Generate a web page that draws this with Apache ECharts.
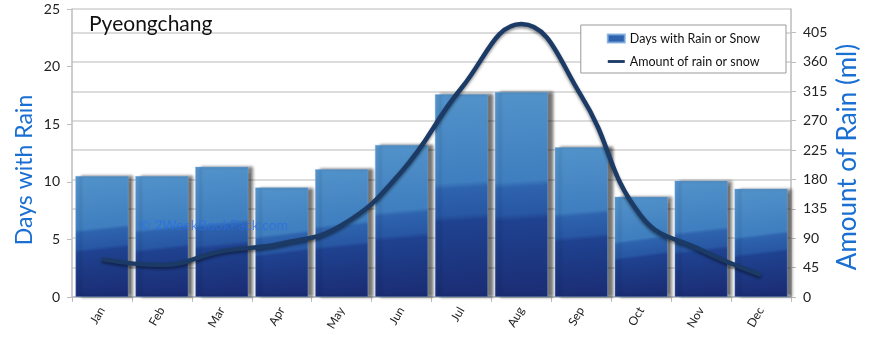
<!DOCTYPE html>
<html>
<head>
<meta charset="utf-8">
<script src="https://cdn.jsdelivr.net/npm/echarts@6/dist/echarts.min.js"></script>
<style>
  html, body { margin: 0; padding: 0; background: #fff; }
  #chart { width: 870px; height: 342px; }
</style>
</head>
<body>
<div id="chart"></div>
<script>
// Monthly climate figures for Pyeongchang
const months = ['Jan', 'Feb', 'Mar', 'Apr', 'May', 'Jun', 'Jul', 'Aug', 'Sep', 'Oct', 'Nov', 'Dec'];
const rainDays = [10.5, 10.5, 11.3, 9.5, 11.1, 13.2, 17.6, 17.8, 13.0, 8.7, 10.1, 9.4];
const rainAmount = [58, 49, 70, 82, 110, 192, 320, 418, 308, 124, 72, 34];
const daysTicks = [0, 5, 10, 15, 20, 25];
const amountTicks = [0, 45, 90, 135, 180, 225, 270, 315, 360, 405];

const FONT = 'Lato';
const AXIS_BLUE = '#1a6fd2';
const chart = echarts.init(document.getElementById('chart'), null, { renderer: 'canvas' });

const barFill = new echarts.graphic.LinearGradient(0, 0, 0.25, 1, [
  { offset: 0, color: '#5393ca' },
  { offset: 0.44, color: '#3f7ebf' },
  { offset: 0.47, color: '#2e63ae' },
  { offset: 0.6, color: '#2857a3' },
  { offset: 0.63, color: '#1f4290' },
  { offset: 1, color: '#1b2d74' }
]);

chart.setOption({
  animation: false,
  title: {
    text: 'Pyeongchang',
    left: 84,
    top: 9,
    textStyle: { fontFamily: FONT, fontSize: 21, fontWeight: 'normal', color: '#111' }
  },
  legend: {
    right: 84,
    top: 25,
    orient: 'vertical',
    backgroundColor: '#fff',
    borderColor: '#9a9a9a',
    borderWidth: 1,
    padding: [7, 26, 5, 26],
    itemGap: 10,
    itemWidth: 17,
    itemHeight: 8,
    textStyle: { fontFamily: FONT, fontSize: 12.5, color: '#111' },
    data: [
      { name: 'Days with Rain or Snow', icon: 'rect', itemStyle: { color: '#2f63b0' } },
      { name: 'Amount of rain or snow', icon: 'path://M0 0H30V5H0Z', itemStyle: { color: '#1b3a66' } }
    ]
  },
  grid: { left: 72, right: 79, top: 9, bottom: 45, containLabel: false },
  xAxis: {
    type: 'category',
    data: months,
    axisLine: { lineStyle: { color: '#bdbdbd', width: 1.5 } },
    axisTick: { show: true, length: 5, lineStyle: { color: '#bdbdbd' } },
    axisLabel: { rotate: 60, margin: 11, fontFamily: FONT, fontSize: 12, color: '#222' }
  },
  yAxis: [
    {
      type: 'value',
      min: 0, max: 25, interval: 5,
      axisLine: { show: true, lineStyle: { color: '#bdbdbd', width: 1.5 } },
      axisTick: { show: true, length: 5, lineStyle: { color: '#bdbdbd' } },
      splitLine: { show: false },
      axisLabel: {
        fontFamily: FONT, fontSize: 14, color: '#222', margin: 12,
        formatter: v => daysTicks.includes(v) ? String(v) : ''
      }
    },
    {
      type: 'value',
      min: 0, max: 441, interval: 45,
      axisLine: { show: true, lineStyle: { color: '#bdbdbd', width: 1.5 } },
      axisTick: { show: true, length: 5, lineStyle: { color: '#bdbdbd' } },
      splitLine: { show: true, lineStyle: { color: '#d0d0d0', width: 1.5 } },
      axisLabel: {
        fontFamily: FONT, fontSize: 14, color: '#222', margin: 12,
        showMaxLabel: false,
        formatter: v => amountTicks.includes(v) ? String(v) : ''
      }
    }
  ],
  graphic: [
    {
      // left axis title
      type: 'text',
      x: 25, y: 170,
      rotation: Math.PI / 2,
      style: {
        text: 'Days with Rain', fontFamily: FONT, fontSize: 23, fill: AXIS_BLUE,
        textAlign: 'center', textVerticalAlign: 'middle'
      }
    },
    {
      // right axis title
      type: 'text',
      x: 848, y: 157,
      rotation: Math.PI / 2,
      style: {
        text: 'Amount of Rain (ml)', fontFamily: FONT, fontSize: 26, fill: AXIS_BLUE,
        textAlign: 'center', textVerticalAlign: 'middle'
      }
    },
    {
      type: 'text',
      left: 139, top: 218,
      style: { text: '© 2WeekBookPack.com', fontFamily: FONT, fontSize: 14, fill: 'rgba(40,110,230,0.7)' },
      z: 20
    }
  ],
  series: [
    {
      name: 'Days with Rain or Snow',
      type: 'bar',
      yAxisIndex: 0,
      data: rainDays,
      barWidth: 53,
      itemStyle: {
        color: barFill,
        borderColor: 'rgba(120,170,220,0.8)',
        borderWidth: 0.5,
        shadowColor: 'rgba(0,0,0,0.55)',
        shadowBlur: 3,
        shadowOffsetX: 5,
        shadowOffsetY: 0
      },
      z: 2
    },
    {
      name: 'Amount of rain or snow',
      type: 'line',
      yAxisIndex: 1,
      data: rainAmount,
      smooth: 0.45,
      symbol: 'none',
      lineStyle: {
        color: '#1b3a66',
        width: 4.5,
        shadowColor: 'rgba(0,0,0,0.45)',
        shadowBlur: 3,
        shadowOffsetY: 2
      },
      z: 5
    }
  ]
});
</script>
</body>
</html>
